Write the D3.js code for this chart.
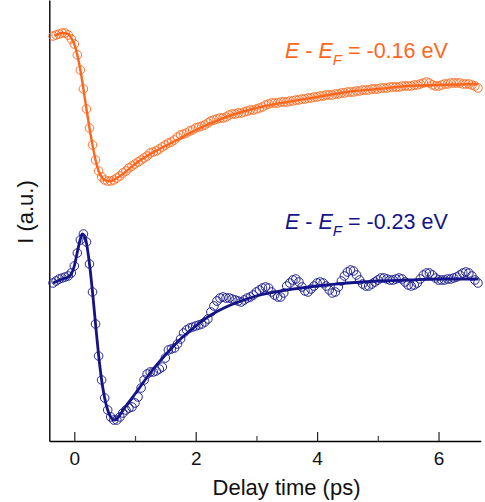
<!DOCTYPE html>
<html>
<head>
<meta charset="utf-8">
<script src="https://cdn.jsdelivr.net/npm/d3@7"></script>
<style>
  html, body { margin: 0; padding: 0; background: #fff; }
  svg { display: block; font-family: "Liberation Sans", Arial, Helvetica, sans-serif; }
</style>
</head>
<body>
<svg id="chart" width="485" height="502"></svg>
<script>
// Delay times (ps) of the measured points
const delayTimes = [
  -0.35,-0.30,-0.25,-0.20,-0.15,-0.10,-0.05,0.00,0.05,0.10,
  0.15,0.20,0.25,0.30,0.35,0.40,0.45,0.50,0.55,0.60,
  0.65,0.70,0.75,0.80,0.85,0.90,0.95,1.00,1.05,1.10,
  1.15,1.20,1.25,1.30,1.35,1.40,1.45,1.50,1.55,1.60,
  1.65,1.70,1.75,1.80,1.85,1.90,1.95,2.00,2.05,2.10,
  2.15,2.20,2.25,2.30,2.35,2.40,2.45,2.50,2.55,2.60,
  2.65,2.70,2.75,2.80,2.85,2.90,2.95,3.00,3.05,3.10,
  3.15,3.20,3.25,3.30,3.35,3.40,3.45,3.50,3.55,3.60,
  3.65,3.70,3.75,3.80,3.85,3.90,3.95,4.00,4.05,4.10,
  4.15,4.20,4.25,4.30,4.35,4.40,4.45,4.50,4.55,4.60,
  4.65,4.70,4.75,4.80,4.85,4.90,4.95,5.00,5.05,5.10,
  5.15,5.20,5.25,5.30,5.35,5.40,5.45,5.50,5.55,5.60,
  5.65,5.70,5.75,5.80,5.85,5.90,5.95,6.00,6.05,6.10,
  6.15,6.20,6.25,6.30,6.35,6.40,6.45,6.50,6.55,6.60,
  6.65
];

// Intensity (a.u., vertically offset) at E - E_F = -0.16 eV
const orangeData = [
  405,406,407,408,408,406,402,397,386,371,
  352,332,313,296,281,270,264,261,260,260,
  261,263,265,268,270,273,275,277,279,281,
  283,285,288,289,290,292,294,296,298,299,
  301,304,306,307,308,310,311,313,314,315,
  316,318,320,321,322,323,323,324,326,327,
  327,328,328,329,330,331,331,332,333,334,
  336,337,338,338,338,339,339,339,340,340,
  341,341,342,342,343,343,344,344,345,345,
  346,346,346,347,347,348,348,349,349,349,
  350,350,351,351,351,352,352,352,353,353,
  353,354,354,354,354,355,355,355,355,356,
  356,357,358,359,358,356,355,355,356,357,
  357,358,358,358,358,357,357,357,356,355,
  353
];

// Intensity (a.u.) at E - E_F = -0.23 eV
const blueData = [
  158,160,162,163,164,165,168,175,188,201,
  207,199,177,149,117,85,61,43,31,24,
  21,21,24,28,31,33,34,38,44,53,
  61,67,69,69,70,72,74,83,91,92,
  93,97,102,108,111,113,114,115,116,117,
  119,122,129,135,140,143,144,143,143,142,
  141,140,139,141,143,144,146,149,151,153,
  154,153,149,146,144,144,148,155,158,161,
  162,159,154,150,149,152,155,158,159,158,
  155,151,148,149,154,160,165,169,171,170,
  166,161,157,155,155,157,159,161,163,163,
  162,161,161,162,163,162,159,156,155,156,
  158,162,166,168,168,166,163,161,161,161,
  162,162,163,164,166,168,169,168,165,161,
  158
];

// Fit curves
const orangeFitT = [-0.33,-0.2,-0.1,-0.05,0,0.05,0.1,0.15,0.2,0.25,0.3,0.35,0.4,0.45,0.5,0.55,0.6,0.7,0.8,1.0,1.25,1.5,1.75,2.0,2.5,3.0,3.5,4.0,4.5,5.0,5.5,6.0,6.65];
const orangeFitV = [405,408,407,403,397,386,371,352,332,313,296,281,270,264,261,260,260,263,267,277,287,295,303,311,324,333,339,344,349,352,355,356,357];

const blueFitT = [-0.35,-0.2,-0.1,-0.05,0,0.05,0.1,0.13,0.17,0.2,0.25,0.3,0.35,0.4,0.45,0.5,0.55,0.6,0.65,0.7,0.75,0.85,1.0,1.25,1.5,1.75,2.0,2.25,2.5,2.75,3.0,3.5,4.0,4.5,5.0,5.5,6.0,6.65];
const blueFitV = [158,162,164,167,175,189,202,207,205,198,177,149,117,86,61,43,31,24,21,22,26,35,47,68,86,102,115,126,134,140,145,151,155,158,160,161,162,162];

const majorTicks = [0, 2, 4, 6];
const minorTicks = [1, 3, 5];

const orangeColor = "#ff661c";
const blueColor = "#141488";

const svg = d3.select("#chart");

const x = d3.scaleLinear().domain([-0.412, 6.695]).range([49.3, 480.7]);
const y = d3.scaleLinear().domain([0, 441]).range([441, 0]);

// Axes
const xAxis = svg.append("g").attr("transform", "translate(0,441)")
  .call(d3.axisBottom(x).tickValues(majorTicks).tickSizeInner(-9).tickSizeOuter(0).tickFormat(d3.format("d")));
xAxis.select(".domain").attr("stroke", "#000").attr("stroke-width", 1.4);
xAxis.selectAll(".tick line").attr("stroke", "#222").attr("stroke-width", 1.2);
xAxis.selectAll(".tick text").attr("y", 24).attr("dy", 0)
  .attr("font-size", 19).attr("fill", "#111")
  .attr("font-family", "'Liberation Sans', Arial, Helvetica, sans-serif");

const xMinor = svg.append("g").attr("transform", "translate(0,441)")
  .call(d3.axisBottom(x).tickValues(minorTicks).tickSizeInner(-5).tickSizeOuter(0).tickFormat(""));
xMinor.select(".domain").remove();
xMinor.selectAll(".tick line").attr("stroke", "#444").attr("stroke-width", 1.2);

const yAxis = svg.append("g").attr("transform", "translate(49.3,0)")
  .call(d3.axisLeft(y).tickValues([]).tickSizeOuter(0));
yAxis.select(".domain").attr("stroke", "#000").attr("stroke-width", 1.4);

// Axis titles
svg.append("text").attr("x", 286.5).attr("y", 495).attr("text-anchor", "middle")
  .attr("font-size", 22).attr("fill", "#111").text("Delay time (ps)");
svg.append("text").attr("transform", "translate(33,212) rotate(-90)").attr("text-anchor", "middle")
  .attr("font-size", 22).attr("fill", "#111").text("I (a.u.)");

// Data circles
function drawSeries(vals, color) {
  const pts = delayTimes.map((t, i) => [t, vals[i]]);
  svg.append("g").selectAll("circle").data(pts).join("circle")
    .attr("cx", d => x(d[0])).attr("cy", d => y(d[1])).attr("r", 4.3)
    .attr("fill", "none").attr("stroke", color).attr("stroke-width", 1)
    .attr("stroke-opacity", 0.9);
}
function drawFit(ts, vs, color, w) {
  const pts = ts.map((t, i) => [t, vs[i]]);
  svg.append("path").datum(pts)
    .attr("d", d3.line().x(d => x(d[0])).y(d => y(d[1])).curve(d3.curveMonotoneX))
    .attr("fill", "none").attr("stroke", color).attr("stroke-width", w);
}
drawSeries(orangeData, orangeColor);
drawFit(orangeFitT, orangeFitV, orangeColor, 2.4);
drawSeries(blueData, blueColor);
drawFit(blueFitT, blueFitV, blueColor, 2.8);

// Labels
function energyLabel(xp, yp, value, color) {
  const t = svg.append("text").attr("x", xp).attr("y", yp).attr("font-size", 21.5).attr("fill", color);
  t.append("tspan").attr("font-style", "italic").text("E");
  t.append("tspan").text(" - ");
  t.append("tspan").attr("font-style", "italic").text("E");
  t.append("tspan").attr("font-style", "italic").attr("font-size", 15).attr("dy", 7).text("F");
  t.append("tspan").attr("dy", -7).text(" = " + value + " eV");
}
energyLabel(285, 58, "-0.16", orangeColor);
energyLabel(285, 229, "-0.23", blueColor);
</script>
</body>
</html>
